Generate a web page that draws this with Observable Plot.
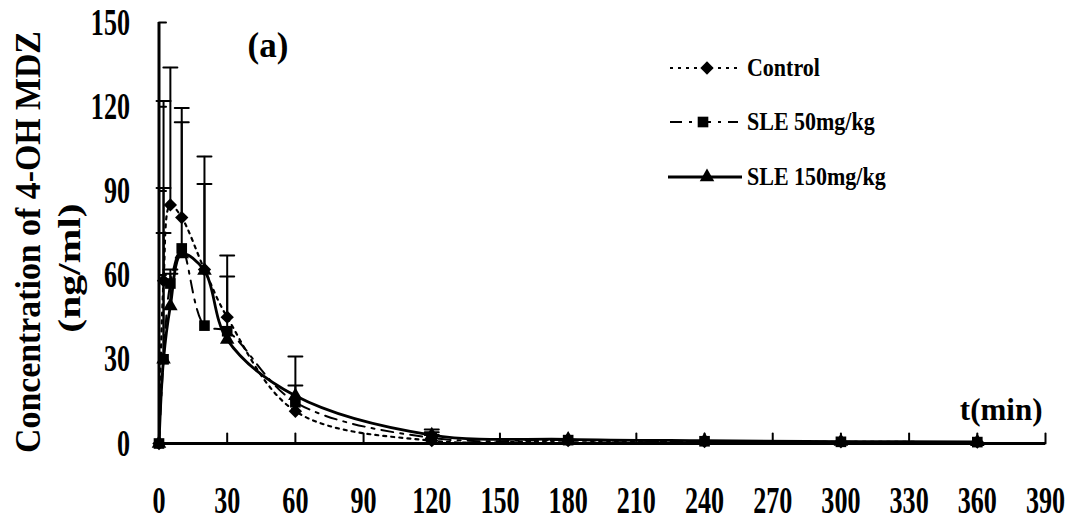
<!DOCTYPE html>
<html><head><meta charset="utf-8">
<script src="https://cdn.jsdelivr.net/npm/d3@7"></script>
<script src="https://cdn.jsdelivr.net/npm/@observablehq/plot@0.6"></script>
<style>
html,body{margin:0;padding:0;background:#fff;}
#wrap{position:relative;width:1080px;height:520px;}
#legend{position:absolute;left:0;top:0;}
</style></head><body><div id="wrap"></div>
<script>
// ---- data ----
const times = [0, 2, 5, 10, 20, 30, 60, 120, 180, 240, 300, 360];
const seriesNames = ["Control", "SLE 50mg/kg", "SLE 150mg/kg"];
const controlMean  = [0, 58, 85, 80.5, 62, 45, 11.5, 1, 1, 0.7, 0.6, 0.5];
const controlUpper = [null, 122, 134, 119.5, null, 67, 31, 3, null, null, null, null];
const sle50Mean    = [0, 30, 57, 69.5, 42, 40, 14.7, 2, 1.2, 0.8, 0.6, 0.5];
const sle50Upper   = [null, 75, 62, 114.5, 92.5, 59.5, 20.7, 4, null, null, null, null];
const sle150Mean   = [0, 30, 49, 67.5, 61.6, 37, 17, 3, 1.5, 1, 0.7, 0.6];
const sle150Upper  = [null, 91, 60.5, null, 102.3, null, null, 5, null, null, null, null];
const xTicks = [0, 30, 60, 90, 120, 150, 180, 210, 240, 270, 300, 330, 360, 390];
const yTicks = [0, 30, 60, 90, 120, 150];

// ---- styles ----
const styles = {
  "Control":      {dash: "3,5", width: 2.2, symbol: "diamond2", r: 6},
  "SLE 50mg/kg":  {dash: "12,7,3,7", width: 2, symbol: "square", r: 6},
  "SLE 150mg/kg": {dash: null, width: 2.8, symbol: "triangle", r: 5.4}
};
const means = [controlMean, sle50Mean, sle150Mean];
const uppers = [controlUpper, sle50Upper, sle150Upper];
const rows = [];
seriesNames.forEach((s, k) => times.forEach((t, i) => rows.push({series: s, t, v: means[k][i], upper: uppers[k][i]})));
const errRows = rows.filter(d => d.upper != null);

const font = "'Liberation Serif', 'Times New Roman', serif";
const capShape = {draw(ctx, l) { ctx.moveTo(-l / 2, 0); ctx.lineTo(l / 2, 0); }};
const tickUp = {draw(ctx, l) { ctx.moveTo(0, 0); ctx.lineTo(0, -l); }};
const tickRight = {draw(ctx, l) { ctx.moveTo(0, 0); ctx.lineTo(l, 0); }};

const marks = [];
// axis lines
marks.push(Plot.ruleY([0], {stroke: "#000", strokeWidth: 3}));
marks.push(Plot.ruleX([0], {stroke: "#000", strokeWidth: 3}));
// inward ticks
marks.push(Plot.vector(xTicks.filter(d => d > 0), {x: d => d, y: 0, length: 10, anchor: "start", shape: tickUp, stroke: "#000", strokeWidth: 2}));
marks.push(Plot.vector(yTicks.filter(d => d > 0), {x: 0, y: d => d, length: 7, anchor: "start", shape: tickRight, stroke: "#000", strokeWidth: 2}));
// error bars
marks.push(Plot.ruleX(errRows, {x: "t", y1: "v", y2: "upper", stroke: "#000", strokeWidth: 2}));
marks.push(Plot.vector(errRows, {x: "t", y: "upper", length: 14, anchor: "start", shape: capShape, stroke: "#000", strokeWidth: 2}));
// lines + markers
for (const s of seriesNames) {
  const st = styles[s];
  const data = rows.filter(d => d.series === s);
  marks.push(Plot.line(data, {x: "t", y: "v", curve: "catmull-rom", stroke: "#000", strokeWidth: st.width, strokeDasharray: st.dash}));
}
for (const s of seriesNames) {
  const st = styles[s];
  const data = rows.filter(d => d.series === s);
  marks.push(Plot.dot(data, {x: "t", y: "v", symbol: st.symbol, r: st.r, fill: "#000", stroke: "none"}));
}
// axes labels
marks.push(Plot.axisX(xTicks, {tickSize: 0, tickPadding: 42, fontSize: 29, fontWeight: "bold", label: null, fill: "#000"}));
marks.push(Plot.axisY(yTicks, {tickSize: 0, tickPadding: 29, fontSize: 29, fontWeight: "bold", label: null, fill: "#000"}));
// titles / annotations
const yTitle1 = "Concentration of 4-OH MDZ";
const yTitle2 = "(ng/ml)";
marks.push(Plot.text([yTitle1], {frameAnchor: "left", dx: -131, dy: 9, rotate: -90, fontSize: 36, fontWeight: "bold", textAnchor: "middle", lineAnchor: "middle", fill: "#000"}));
marks.push(Plot.text([yTitle2], {frameAnchor: "left", dx: -89, dy: 35, rotate: -90, fontSize: 32, fontWeight: "bold", textAnchor: "middle", lineAnchor: "middle", fill: "#000"}));
marks.push(Plot.text(["(a)"], {frameAnchor: "top-left", dx: 109, dy: 23, fontSize: 35, fontWeight: "bold", textAnchor: "middle", lineAnchor: "middle", fill: "#000"}));
marks.push(Plot.text(["t(min)"], {frameAnchor: "bottom-right", dx: -3, dy: -24, fontSize: 31, fontWeight: "bold", textAnchor: "end", lineAnchor: "bottom", fill: "#000"}));

const chart = Plot.plot({
  width: 1080, height: 520,
  marginLeft: 158.5, marginRight: 35, marginTop: 22, marginBottom: 77,
  x: {domain: [0, 390]},
  y: {domain: [0, 150]},
  style: {fontFamily: font, background: "#fff", color: "#000", overflow: "visible"},
  marks
});
document.getElementById("wrap").appendChild(chart);

// tall, narrow type as in the reference
function stretchSel(sel, sc) {
  sel.each(function () {
    const t = this.getAttribute("transform") || "";
    this.setAttribute("transform", t + " " + sc);
  });
}
const root = d3.select(chart);
stretchSel(root.selectAll('g[aria-label="x-axis tick label"] text'), "scale(0.9,1.33)");
stretchSel(root.selectAll('g[aria-label="y-axis tick label"] text'), "scale(0.9,1.3)");
stretchSel(root.selectAll("text").filter(function () { return this.textContent === yTitle1; }), "scale(0.94,1)");
stretchSel(root.selectAll("text").filter(function () { return this.textContent === yTitle2; }), "scale(1.3,1)");

// legend (overlay)
const legendRows = [
  {name: "Control", y: 68, x1: 670, x2: 738, mx: 707},
  {name: "SLE 50mg/kg", y: 122, x1: 670, x2: 738, mx: 703},
  {name: "SLE 150mg/kg", y: 177, x1: 668, x2: 742, mx: 707}
];
const symMap = {diamond2: d3.symbolDiamond2, square: d3.symbolSquare, triangle: d3.symbolTriangle};
const lg = d3.select("#wrap").append("svg").attr("id", "legend").attr("width", 1080).attr("height", 520);
legendRows.forEach(r => {
  const st = styles[r.name];
  lg.append("line").attr("x1", r.x1).attr("x2", r.x2).attr("y1", r.y).attr("y2", r.y)
    .attr("stroke", "#000").attr("stroke-width", st.width).attr("stroke-dasharray", st.dash);
  lg.append("path").attr("transform", `translate(${r.mx},${r.y})`)
    .attr("d", d3.symbol(symMap[st.symbol], Math.PI * st.r * st.r)()).attr("fill", "#000");
  lg.append("text").attr("x", 747).attr("y", r.y).attr("dy", "0.33em")
    .attr("font-family", font).attr("font-weight", "bold").attr("font-size", 22)
    .attr("transform", `translate(747,${r.y}) scale(1,1.1) translate(-747,${-r.y})`)
    .attr("fill", "#000").text(r.name);
});
</script></body></html>
